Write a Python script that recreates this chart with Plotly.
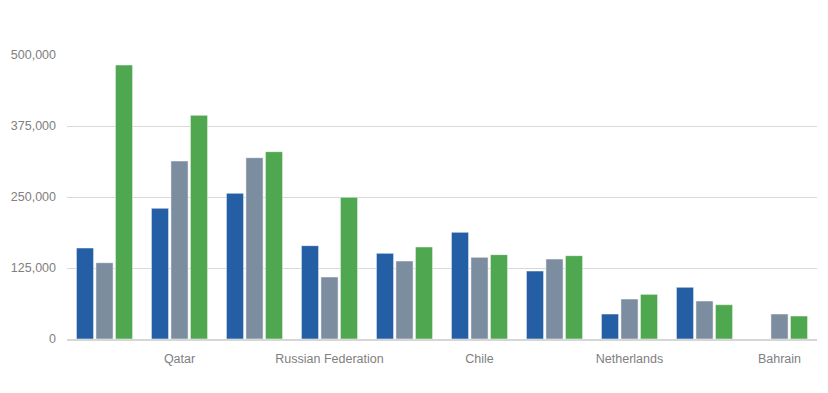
import plotly.graph_objects as go

categories = ["Luxembourg", "Qatar", "Norway", "Russian Federation", "Kuwait",
              "Chile", "Singapore", "Netherlands", "Brunei", "Bahrain"]
shown_labels = ["Qatar", "Russian Federation", "Chile", "Netherlands", "Bahrain"]
series_a = [160200, 230100, 256500, 164300, 150800, 187800, 119700, 44000, 91000, None]
series_b = [134300, 313400, 319200, 109200, 137300, 143800, 140800, 70400, 66900, 44000]
series_c = [482400, 393800, 329800, 249400, 162000, 148500, 146700, 78600, 60400, 40500]
y_ticks = [0, 125000, 250000, 375000, 500000]

colors = ["#245fa5", "#7c8d9f", "#4fa84f"]
names = ["Series A", "Series B", "Series C"]

fig = go.Figure()
for vals, col, nm in zip([series_a, series_b, series_c], colors, names):
    fig.add_trace(go.Bar(x=categories, y=vals, name=nm,
                         marker=dict(color=col, line=dict(color="rgba(255,255,255,0.5)", width=1))))

fig.update_layout(
    width=828, height=393,
    margin=dict(l=59, r=19, t=47, b=62, autoexpand=False),
    paper_bgcolor="white", plot_bgcolor="white",
    barmode="group", bargap=0.22, bargroupgap=0.12,
    showlegend=False,
    font=dict(family="Liberation Sans, Arial, sans-serif", size=12.5, color="#808080"),
)
fig.update_xaxes(
    tickmode="array", tickvals=shown_labels, ticktext=shown_labels,
    showline=True, linecolor="#d6d6d6", linewidth=1.5,
    ticks="", showgrid=False, ticklabelstandoff=7,
    tickfont=dict(size=12.5, color="#808080"), automargin=False,
)
fig.update_yaxes(
    range=[0, 500000], tickvals=y_ticks, tickformat=",d",
    showgrid=True, gridcolor="#d9d9d9", gridwidth=1,
    zeroline=False, showline=False, ticks="",
    ticklabelstandoff=10, automargin=False,
    tickfont=dict(size=12.5, color="#808080"),
)
fig.write_html("out.html")
